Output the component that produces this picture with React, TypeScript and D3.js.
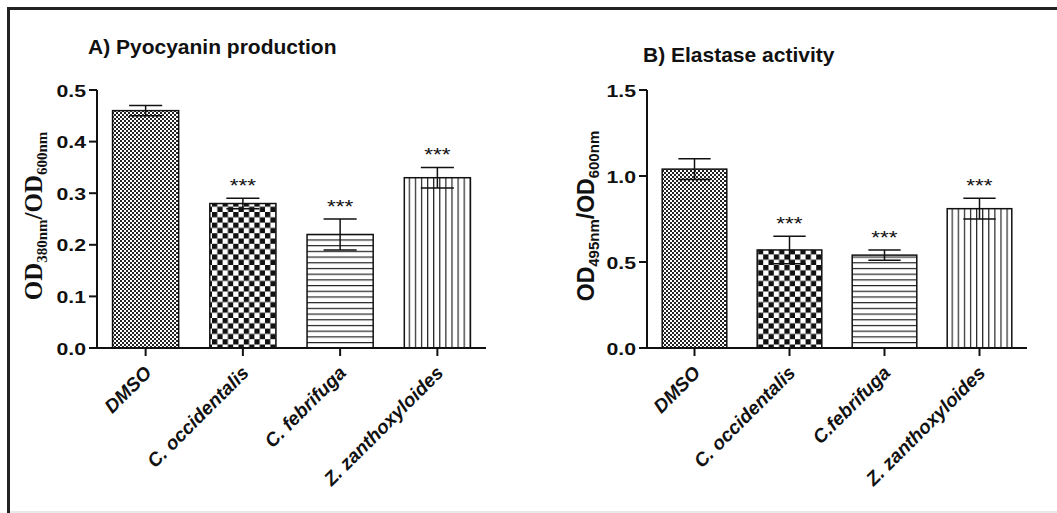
import React from "react";
import * as d3 from "d3";

const categoriesA = ["DMSO", "C. occidentalis", "C. febrifuga", "Z. zanthoxyloides"];
const valuesA = [0.46, 0.28, 0.22, 0.33];
const errorsA = [0.01, 0.01, 0.03, 0.02];
const sigA = ["", "***", "***", "***"];
const ticksA = [0, 0.1, 0.2, 0.3, 0.4, 0.5];

const categoriesB = ["DMSO", "C. occidentalis", "C.febrifuga", "Z. zanthoxyloides"];
const valuesB = [1.04, 0.57, 0.54, 0.81];
const errorsB = [0.06, 0.08, 0.03, 0.06];
const sigB = ["", "***", "***", "***"];
const ticksB = [0, 0.5, 1.0, 1.5];

const patternIds = ["fineCheck", "coarseCheck", "hLines", "vLines"];

const SANS = "'Liberation Sans', Arial, Helvetica, sans-serif";
const SERIF = "'Liberation Serif', 'Times New Roman', serif";

type PanelProps = {
  title: string;
  titleX: number;
  titleY: number;
  categories: string[];
  values: number[];
  errors: number[];
  sig: string[];
  ticks: number[];
  yMax: number;
  x0: number;
  x1: number;
  yBottom: number;
  yTop: number;
  yLabel: React.ReactNode;
};

function Panel(p: PanelProps) {
  const x = d3
    .scaleBand<string>()
    .domain(p.categories)
    .range([p.x0, p.x1])
    .paddingInner(0.32)
    .paddingOuter(0.16);
  const y = d3.scaleLinear().domain([0, p.yMax]).range([p.yBottom, p.yTop]);
  const bw = x.bandwidth();
  const fmt = d3.format(".1f");
  return (
    <g>
      <text x={p.titleX} y={p.titleY} fontFamily={SANS} fontWeight="bold" fontSize={21} fill="#111">
        {p.title}
      </text>
      {p.yLabel}
      {p.categories.map((c, i) => {
        const bx = x(c)!;
        const cx = bx + bw / 2;
        const top = y(p.values[i]);
        const hi = y(p.values[i] + p.errors[i]);
        const lo = y(p.values[i] - p.errors[i]);
        return (
          <g key={c}>
            <rect
              x={bx}
              y={top}
              width={bw}
              height={y(0) - top}
              fill={`url(#${patternIds[i]})`}
              stroke="#111"
              strokeWidth={1.5}
            />
            <line x1={cx} x2={cx} y1={hi} y2={lo} stroke="#111" strokeWidth={1.5} />
            <line x1={cx - bw / 4} x2={cx + bw / 4} y1={hi} y2={hi} stroke="#111" strokeWidth={1.5} />
            <line x1={cx - bw / 4} x2={cx + bw / 4} y1={lo} y2={lo} stroke="#111" strokeWidth={1.5} />
            {p.sig[i] && (
              <text
                transform={`translate(${cx},${hi - 6}) scale(1.25,1)`}
                textAnchor="middle"
                fontFamily={SANS}
                fontSize={18}
                fill="#111"
              >
                {p.sig[i]}
              </text>
            )}
          </g>
        );
      })}
      {/* axes */}
      <line x1={p.x0} x2={p.x0} y1={p.yBottom + 1} y2={y(p.yMax)} stroke="#111" strokeWidth={2} />
      <line x1={p.x0 - 1} x2={p.x1} y1={p.yBottom} y2={p.yBottom} stroke="#111" strokeWidth={2} />
      {p.ticks.map((t) => (
        <g key={t}>
          <line x1={p.x0 - 8} x2={p.x0} y1={y(t)} y2={y(t)} stroke="#111" strokeWidth={2} />
          <text
            transform={`translate(${p.x0 - 11},${y(t) + 6.5}) scale(1.25,1)`}
            textAnchor="end"
            fontFamily={SANS}
            fontWeight="bold"
            fontSize={17}
            fill="#111"
          >
            {fmt(t)}
          </text>
        </g>
      ))}
      {p.categories.map((c) => {
        const cx = x(c)! + bw / 2;
        return (
          <g key={"t" + c}>
            <line x1={cx} x2={cx} y1={p.yBottom} y2={p.yBottom + 8} stroke="#111" strokeWidth={2} />
            <text
              transform={`translate(${cx + 7},${p.yBottom + 26}) rotate(-45)`}
              textAnchor="end"
              fontFamily={SANS}
              fontWeight="bold"
              fontStyle="italic"
              fontSize={19}
              fill="#111"
            >
              {c}
            </text>
          </g>
        );
      })}
    </g>
  );
}

export default function App() {
  const W = 1057;
  const H = 513;
  return (
    <svg
      width={W}
      height={H}
      style={{ position: "absolute", left: 0, top: 0, display: "block", background: "#fff" }}
    >
      <defs>
        <pattern id="fineCheck" patternUnits="userSpaceOnUse" width={4} height={4}>
          <rect width={4} height={4} fill="#fff" />
          <rect width={2} height={2} fill="#222" />
          <rect x={2} y={2} width={2} height={2} fill="#222" />
        </pattern>
        <pattern id="coarseCheck" patternUnits="userSpaceOnUse" width={10.6} height={10.6}>
          <rect width={10.6} height={10.6} fill="#fff" />
          <rect width={5.3} height={5.3} fill="#111" />
          <rect x={5.3} y={5.3} width={5.3} height={5.3} fill="#111" />
        </pattern>
        <pattern id="hLines" patternUnits="userSpaceOnUse" width={10} height={5.7}>
          <rect width={10} height={5.7} fill="#fff" />
          <line x1={0} x2={10} y1={0.6} y2={0.6} stroke="#222" strokeWidth={1.2} />
        </pattern>
        <pattern id="vLines" patternUnits="userSpaceOnUse" width={6.1} height={10}>
          <rect width={6.1} height={10} fill="#fff" />
          <line x1={0.6} x2={0.6} y1={0} y2={10} stroke="#222" strokeWidth={1.2} />
        </pattern>
      </defs>
      <rect x={0} y={0} width={W} height={H} fill="#fff" />
      {/* frame */}
      <line x1={7} x2={W} y1={8.5} y2={8.5} stroke="#222" strokeWidth={3} />
      <line x1={8.5} x2={8.5} y1={7} y2={H} stroke="#222" strokeWidth={3} />
      <line x1={10} x2={W} y1={512} y2={512} stroke="#e8e8e8" strokeWidth={2} />

      <Panel
        title="A) Pyocyanin production"
        titleX={88}
        titleY={54}
        categories={categoriesA}
        values={valuesA}
        errors={errorsA}
        sig={sigA}
        ticks={ticksA}
        yMax={0.5}
        x0={97}
        x1={486}
        yBottom={348}
        yTop={90}
        yLabel={
          <text
            transform="translate(42,216) rotate(-90)"
            textAnchor="middle"
            fontFamily={SERIF}
            fontWeight="bold"
            fill="#111"
          >
            <tspan fontSize={25}>OD</tspan>
            <tspan fontSize={15} dy={5}>380nm</tspan>
            <tspan fontSize={25} dy={-5}>/OD</tspan>
            <tspan fontSize={15} dy={5}>600nm</tspan>
          </text>
        }
      />
      <Panel
        title="B) Elastase activity"
        titleX={643}
        titleY={62}
        categories={categoriesB}
        values={valuesB}
        errors={errorsB}
        sig={sigB}
        ticks={ticksB}
        yMax={1.5}
        x0={647}
        x1={1027}
        yBottom={348}
        yTop={90}
        yLabel={
          <text
            transform="translate(594,216) rotate(-90)"
            textAnchor="middle"
            fontFamily={SANS}
            fontWeight="bold"
            fill="#111"
          >
            <tspan fontSize={23}>OD</tspan>
            <tspan fontSize={15} dy={5}>495nm</tspan>
            <tspan fontSize={23} dy={-5}>/OD</tspan>
            <tspan fontSize={15} dy={5}>600nm</tspan>
          </text>
        }
      />
    </svg>
  );
}
